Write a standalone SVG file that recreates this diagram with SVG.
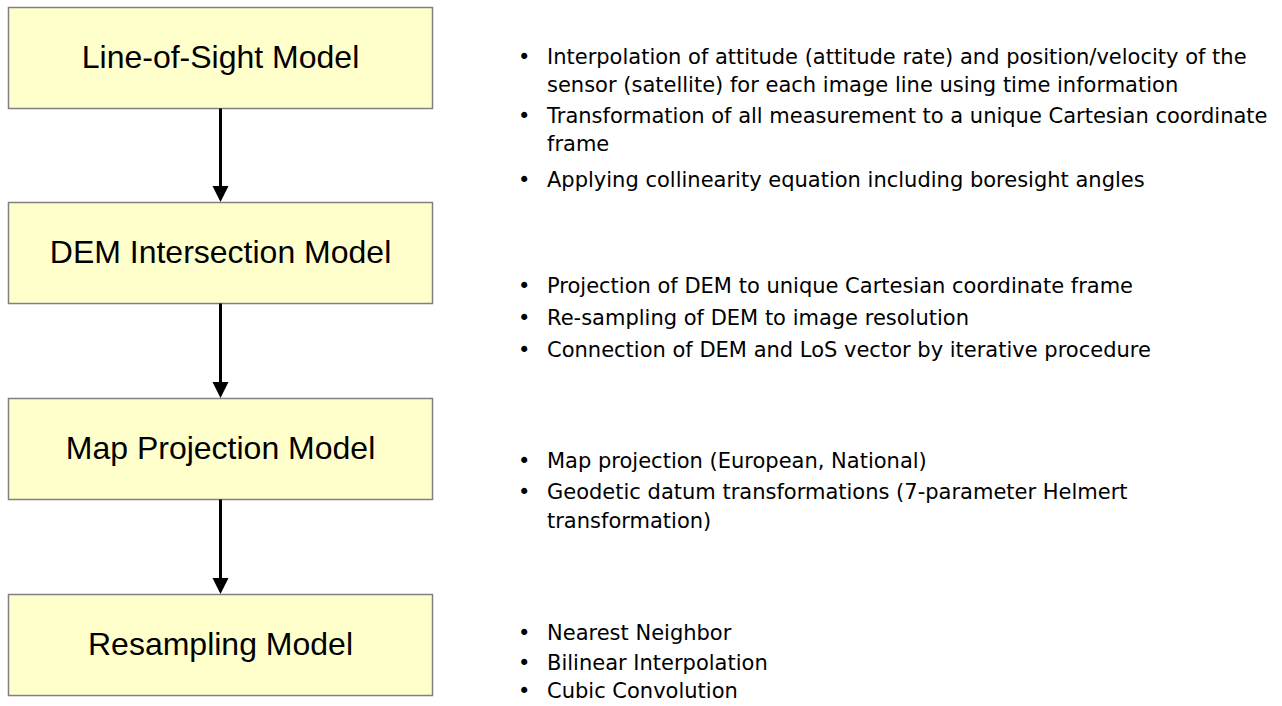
<svg xmlns="http://www.w3.org/2000/svg" width="1282" height="706" viewBox="0 0 1282 706">
<style>
.box{fill:#FFFFCC;stroke:#808080;stroke-width:1.5}
.lbl{font-family:"Liberation Sans",Arial,sans-serif;font-size:32px;fill:#000;text-anchor:middle}
.txt{font-family:"DejaVu Sans","Liberation Sans",sans-serif;font-size:21px;fill:#000}
.conn{stroke:#000;stroke-width:3;fill:none}
.head{fill:#000}
</style>
<rect width="1282" height="706" fill="#fff"/>
<g id="node-los">
<rect class="box" x="8.5" y="7.5" width="424" height="101"/>
<text class="lbl" x="220.5" y="67.5">Line-of-Sight Model</text>
</g>
<g id="node-dem">
<rect class="box" x="8.5" y="202.5" width="424" height="101"/>
<text class="lbl" x="220.5" y="263">DEM Intersection Model</text>
</g>
<g id="node-map">
<rect class="box" x="8.5" y="398.5" width="424" height="101"/>
<text class="lbl" x="220.5" y="459">Map Projection Model</text>
</g>
<g id="node-res">
<rect class="box" x="8.5" y="594.5" width="424" height="101"/>
<text class="lbl" x="220.5" y="655">Resampling Model</text>
</g>
<g id="connectors">
<line class="conn" x1="220.5" y1="108.5" x2="220.5" y2="187"/>
<polygon class="head" points="212.5,186 228.5,186 220.5,202"/>
<line class="conn" x1="220.5" y1="303.5" x2="220.5" y2="383"/>
<polygon class="head" points="212.5,382 228.5,382 220.5,398"/>
<line class="conn" x1="220.5" y1="499.5" x2="220.5" y2="579"/>
<polygon class="head" points="212.5,578 228.5,578 220.5,594"/>
</g>
<g id="notes-los" class="txt">
<text x="518" y="64">•</text><text x="547" y="64">Interpolation of attitude (attitude rate) and position/velocity of the</text>
<text x="547" y="92">sensor (satellite) for each image line using time information</text>
<text x="518" y="123">•</text><text x="547" y="123">Transformation of all measurement to a unique Cartesian coordinate</text>
<text x="547" y="151">frame</text>
<text x="518" y="187">•</text><text x="547" y="187">Applying collinearity equation including boresight angles</text>
</g>
<g id="notes-dem" class="txt">
<text x="518" y="293">•</text><text x="547" y="293">Projection of DEM to unique Cartesian coordinate frame</text>
<text x="518" y="325">•</text><text x="547" y="325">Re-sampling of DEM to image resolution</text>
<text x="518" y="357">•</text><text x="547" y="357">Connection of DEM and LoS vector by iterative procedure</text>
</g>
<g id="notes-map" class="txt">
<text x="518" y="468">•</text><text x="547" y="468">Map projection (European, National)</text>
<text x="518" y="499">•</text><text x="547" y="499">Geodetic datum transformations (7-parameter Helmert</text>
<text x="547" y="528">transformation)</text>
</g>
<g id="notes-res" class="txt">
<text x="518" y="640">•</text><text x="547" y="640">Nearest Neighbor</text>
<text x="518" y="670">•</text><text x="547" y="670">Bilinear Interpolation</text>
<text x="518" y="698">•</text><text x="547" y="698">Cubic Convolution</text>
</g>
</svg>
